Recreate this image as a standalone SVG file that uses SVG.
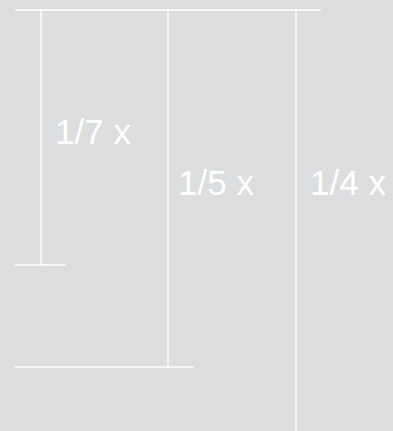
<svg xmlns="http://www.w3.org/2000/svg" width="393" height="431" viewBox="0 0 393 431">
<style>
.ln{stroke:#ffffff;stroke-width:1.4;fill:none}
.lb{fill:#ffffff;font-family:"Liberation Sans",Arial,sans-serif;font-size:35px;font-weight:300}
</style>
<rect x="0" y="0" width="393" height="431" fill="#dcdddf"/>
<g id="connectors">
<line class="ln" x1="15" y1="10" x2="321" y2="10"/>
<line class="ln" x1="41" y1="10" x2="41" y2="265"/>
<line class="ln" x1="15" y1="265" x2="66" y2="265"/>
<line class="ln" x1="168" y1="10" x2="168" y2="367"/>
<line class="ln" x1="15" y1="367" x2="194" y2="367"/>
<line class="ln" x1="296" y1="10" x2="296" y2="431"/>
</g>
<g id="label-1-7"><text class="lb" x="55" y="143.5">1/7 x</text></g>
<g id="label-1-5"><text class="lb" x="178" y="194.5">1/5 x</text></g>
<g id="label-1-4"><text class="lb" x="310" y="194.5">1/4 x</text></g>
</svg>
